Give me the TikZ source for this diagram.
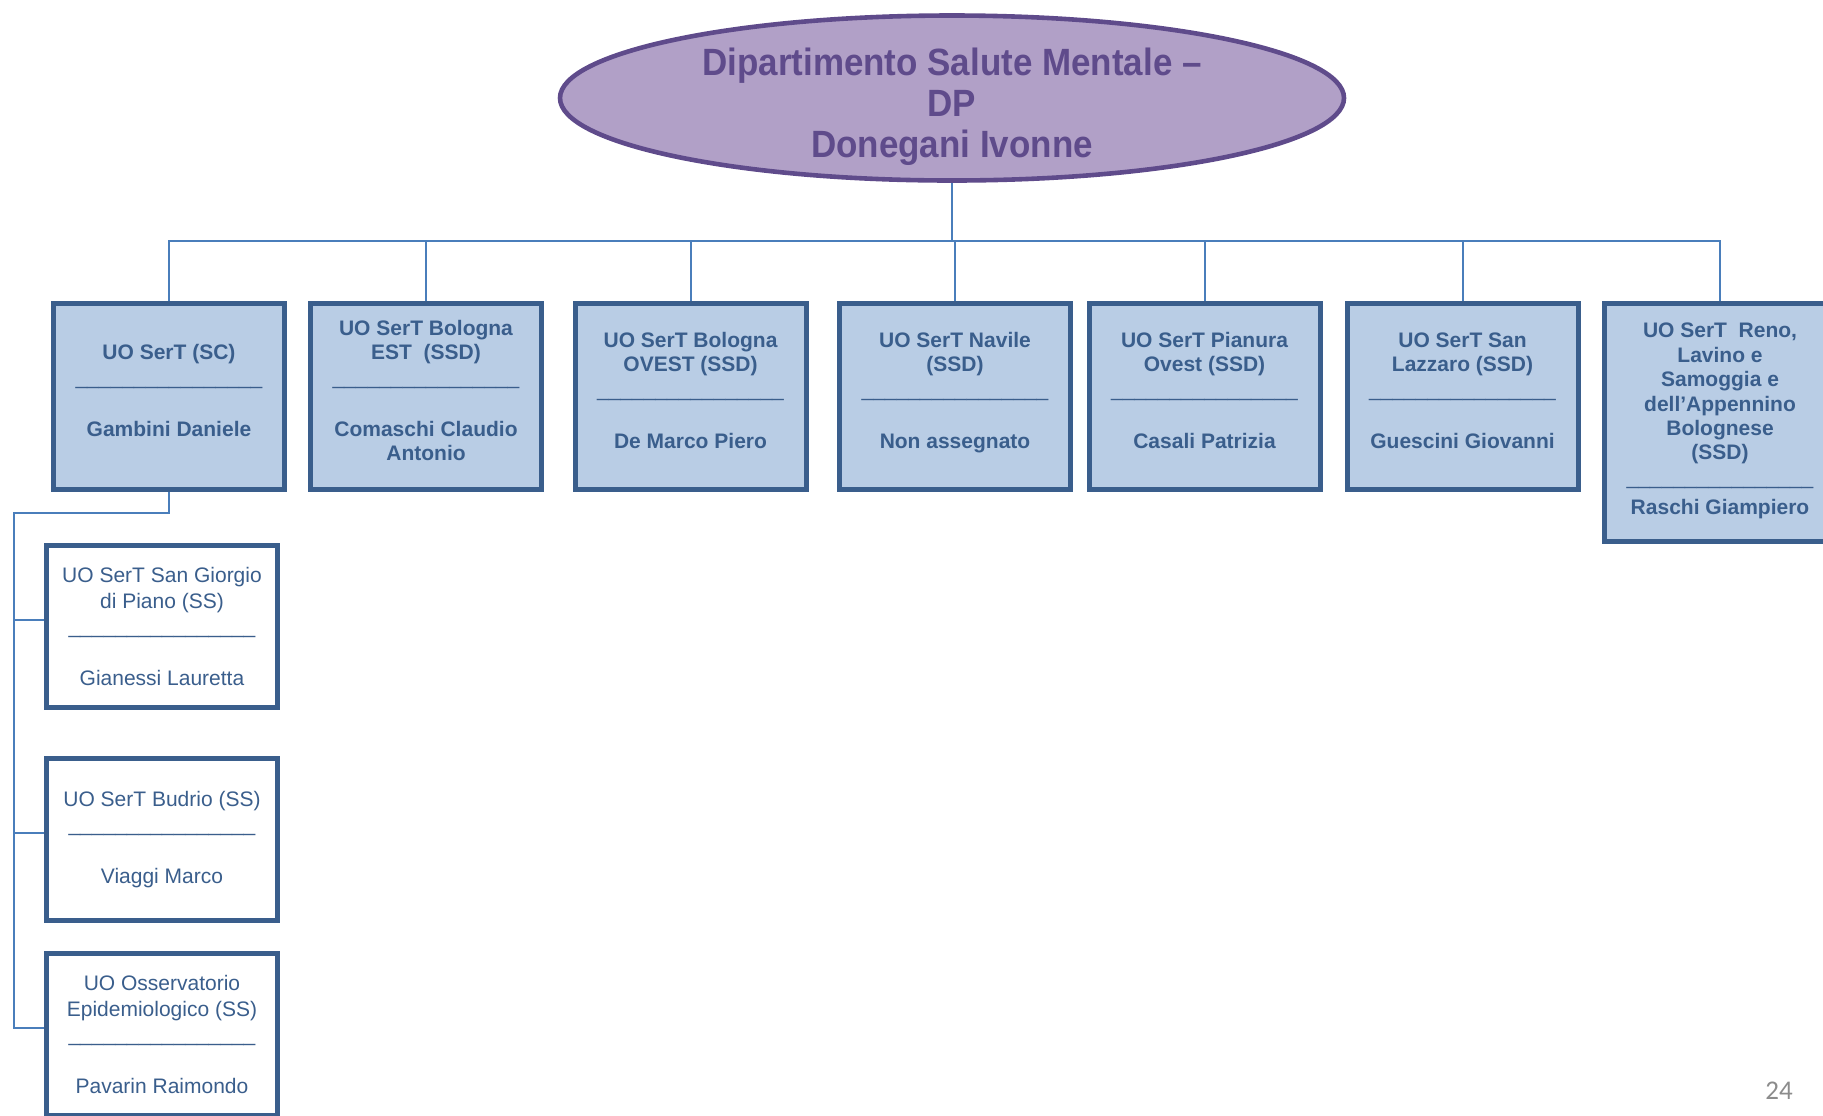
\documentclass[tikz,border=0pt]{standalone}
\usepackage{fontspec}
\setmainfont{Liberation Sans}
\newfontfamily\pagefont{Carlito}
\newfontfamily\deptfont{Liberation Sans}[FakeStretch=0.92]
\usepackage{tikz}
\usetikzlibrary{shapes,positioning}
\definecolor{unitblue}{RGB}{58,94,140}
\definecolor{unitfill}{RGB}{185,205,229}
\definecolor{linkblue}{RGB}{74,126,187}
\definecolor{deptfill}{RGB}{177,160,199}
\definecolor{deptline}{RGB}{95,75,139}
\definecolor{pagegray}{RGB}{140,140,140}
\tikzstyle{dept} = [draw=deptline, line width=2.3pt, ellipse, fill=deptfill, minimum width=392pt, minimum height=82.5pt, inner sep=0pt]
\tikzstyle{deptlabel} = [text=deptline, font=\deptfont\bfseries\fontsize{19}{20.5}\selectfont, align=center, inner sep=0pt]
\tikzstyle{sertbox} = [draw=unitblue, line width=2.5pt, rectangle, text=unitblue, align=center, minimum width=115.5pt, inner sep=0pt]
\tikzstyle{unit} = [sertbox, fill=unitfill, font=\bfseries\fontsize{10.5}{12.2}\selectfont, minimum height=93pt, text depth=6pt]
\tikzstyle{subunit} = [sertbox, fill=white, font=\fontsize{10.5}{12.8}\selectfont, minimum height=81pt]
\tikzstyle{link} = [draw=linkblue, line width=1pt]
\tikzstyle{joint} = [coordinate]
\tikzstyle{pagenum} = [text=pagegray, font=\pagefont\fontsize{13.5}{16}\selectfont]
\newcommand{\sepline}{{\mdseries\_\_\_\_\_\_\_\_\_\_\_\_\_\_\_\_}}

\begin{document}
\begin{tikzpicture}[x=0.5pt, y=-0.5pt]
    \useasboundingbox (0,0) rectangle (1823,1115);
    \node [dept] (dept) at (952,98) {};
    \node [deptlabel] (deptname) at ([yshift=-4.6pt]dept.center) {Dipartimento Salute Mentale –\\DP\\Donegani Ivonne};
    \node [joint] (bus) at (952,241) {};
    \draw [link] (dept.south) -- (bus);

    \node [unit] (u1) at (169,396.5) {UO SerT (SC)\\\sepline\\[14pt]Gambini Daniele};
    \node [unit] (u2) at (426,396.5) {UO SerT Bologna\\EST\ \ (SSD)\\\sepline\\[14pt]Comaschi Claudio\\Antonio};
    \node [unit] (u3) at (690.5,396.5) {UO SerT Bologna\\OVEST (SSD)\\\sepline\\[14pt]De Marco Piero};
    \node [unit] (u4) at (955,396.5) {UO SerT Navile\\(SSD)\\\sepline\\[14pt]Non assegnato};
    \node [unit] (u5) at (1204.5,396.5) {UO SerT Pianura\\Ovest (SSD)\\\sepline\\[14pt]Casali Patrizia};
    \node [unit] (u6) at (1462.5,396.5) {UO SerT San\\Lazzaro (SSD)\\\sepline\\[14pt]Guescini Giovanni};
    \node [unit, minimum height=119pt, text depth=3.5pt] (u7) at (1720,422.5) {UO SerT\ \ Reno,\\Lavino e\\Samoggia e\\dell’Appennino\\Bolognese\\(SSD)\\\sepline\\[3pt]Raschi Giampiero};
    \foreach \u in {u1,u2,u3,u4,u5,u6,u7}
        \draw [link] (bus) -| (\u.north);

    % simple structures under UO SerT (SC)
    \node [subunit] (s1) at (162,626.5) {UO SerT San Giorgio\\di Piano (SS)\\\sepline\\[13pt]Gianessi Lauretta};
    \node [subunit] (s2) at (162,839.5) {UO SerT Budrio (SS)\\\sepline\\[13pt]Viaggi Marco};
    \node [subunit] (s3) at (162,1034.5) {UO Osservatorio\\Epidemiologico (SS)\\\sepline\\[13pt]Pavarin Raimondo};
    \node [joint] (spine) at (14,513) {};
    \draw [link] (u1.south) |- (spine) |- ([yshift=3.5pt]s3.west);
    \draw [link] (spine) |- ([yshift=3.5pt]s1.west);
    \draw [link] (spine) |- ([yshift=3.5pt]s2.west);

    \node [pagenum] (page) at (1779,1091) {24};
\end{tikzpicture}
\end{document}
